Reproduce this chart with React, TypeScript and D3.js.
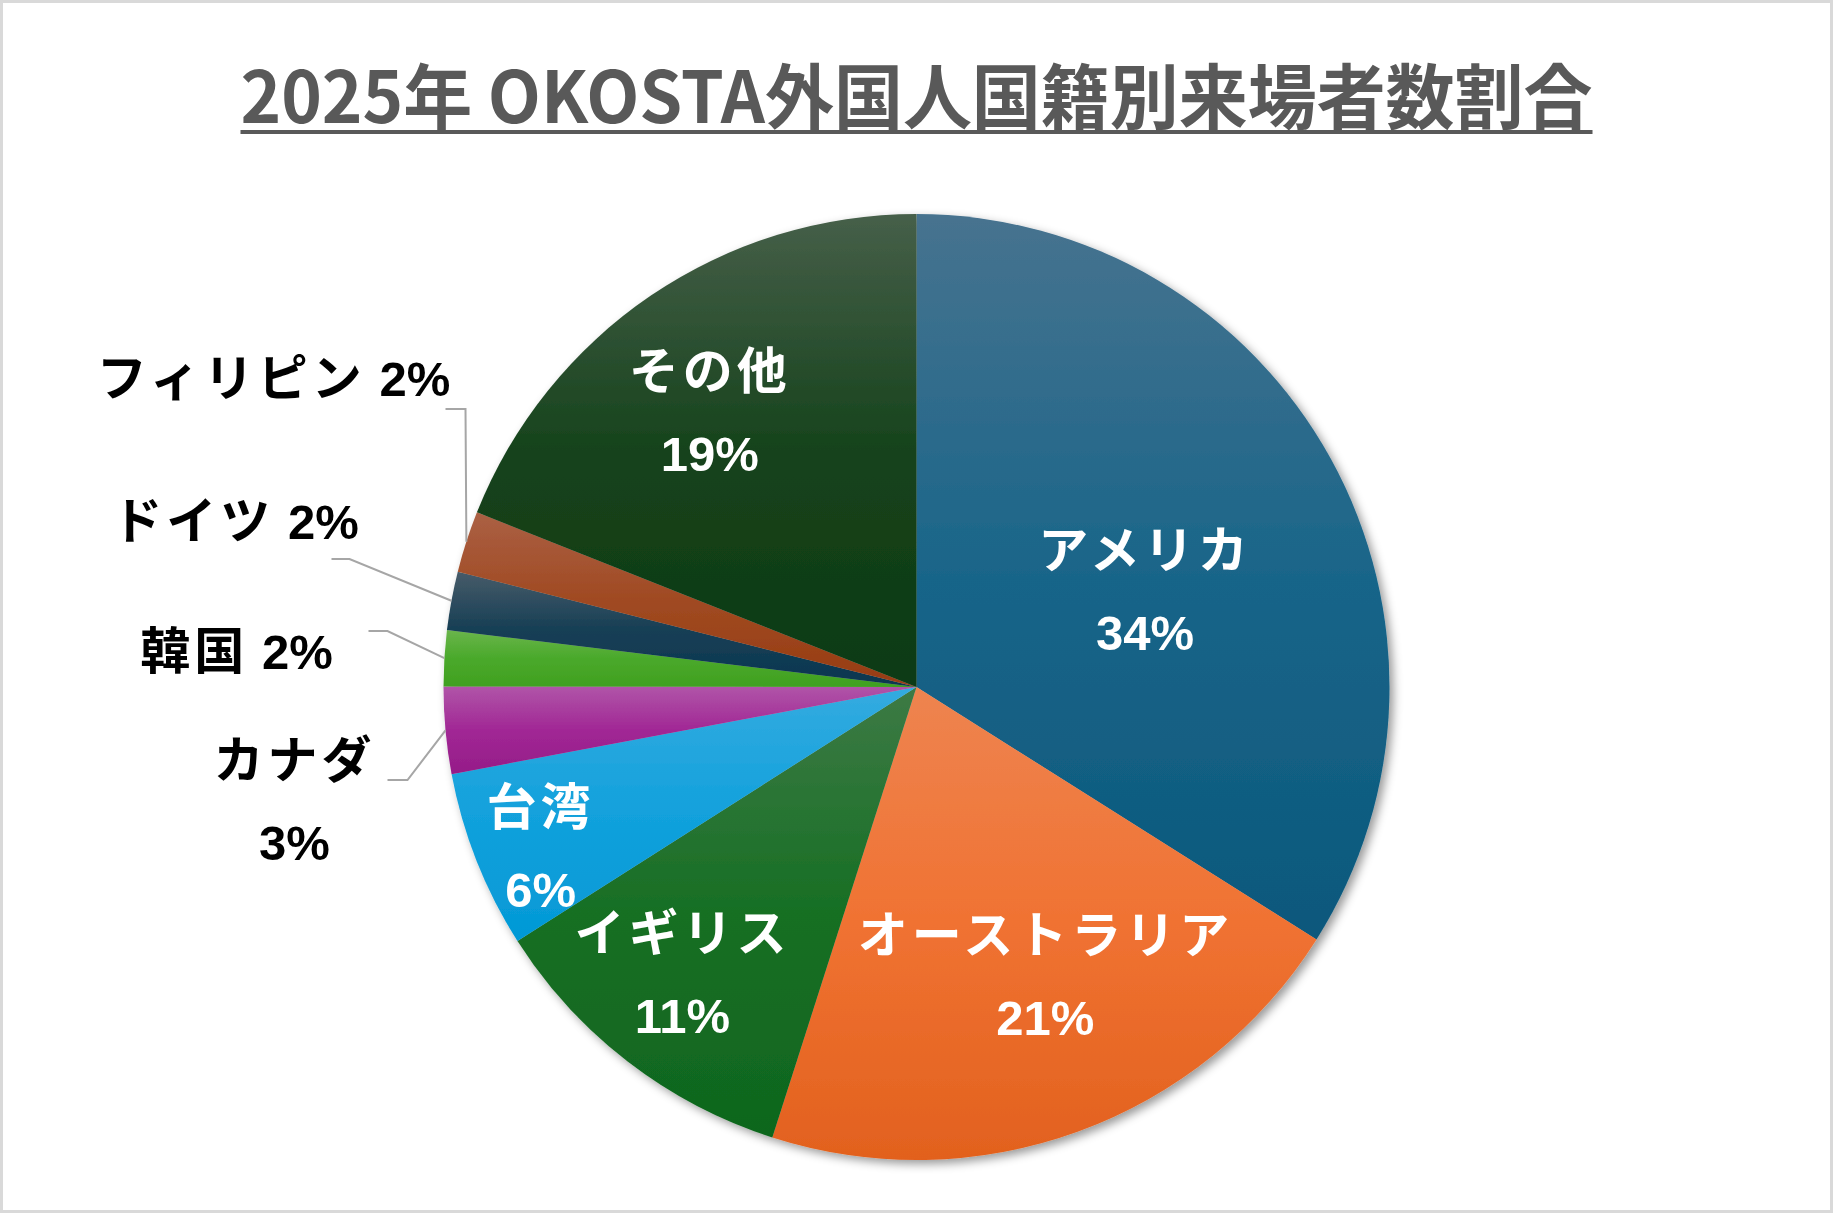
import React, { useEffect, useRef } from "react";
import * as d3 from "d3";

// data (share of foreign visitors by nationality, %)
const countries = ["アメリカ", "オーストラリア", "イギリス", "台湾", "カナダ", "韓国", "ドイツ", "フィリピン", "その他"];
const shares = [33.96, 20.97, 11.05, 6.07, 2.97, 1.9, 2.0, 2.1, 18.98];
const percentLabels = ["34%", "21%", "11%", "6%", "3%", "2%", "2%", "2%", "19%"];

const title = "2025年 OKOSTA外国人国籍別来場者数割合";

// gradient stops per slice: top, middle, bottom
const gradTop = ["#47738f", "#ee8450", "#3d7a45", "#34abe0", "#b055a8", "#6ab54b", "#475b69", "#ab6044", "#465f49"];
const gradMid = ["#196589", "#f07232", "#176f24", "#12a1dc", "#a12795", "#4aa92b", "#173f55", "#a04a22", "#16431c"];
const gradBot = ["#0b587c", "#e2611e", "#0f661e", "#0399d6", "#951c88", "#40a020", "#0a3650", "#973c12", "#0c3a12"];

// label layout (inside labels: radius fraction + angle tweak in degrees)
const insideLayout: Record<string, { k: number; da: number }> = {
  "アメリカ": { k: 0.524, da: 6.1 },
  "オーストラリア": { k: 0.67, da: -4 },
  "イギリス": { k: 0.784, da: 1.5 },
  "台湾": { k: 0.865, da: -1.7 },
  "その他": { k: 0.727, da: -2.8 },
};
// outside labels: offsets from the pie centre for elbow, line end, text centre
const outsideLayout: Record<string, { elbow: number[]; end: number[]; text: number[]; twoLines: boolean }> = {
  "カナダ": { elbow: [-509, 93], end: [-529, 93], text: [-622, 114], twoLines: true },
  "韓国": { elbow: [-529, -56], end: [-548, -56], text: [-680, -36], twoLines: false },
  "ドイツ": { elbow: [-567, -128], end: [-585, -128], text: [-681, -166], twoLines: false },
  "フィリピン": { elbow: [-451, -278], end: [-471, -278], text: [-643, -309], twoLines: false },
};

const W = 1833;
const H = 1213;
const FONT = "'Noto Sans CJK JP', 'Noto Sans', sans-serif";
const NUM_FONT = "'Liberation Sans', Arial, sans-serif";

export default function App() {
  const ref = useRef<SVGSVGElement>(null);

  useEffect(() => {
    const svg = d3.select(ref.current);
    svg.selectAll("*").remove();

    const cx = W / 2, cy = 687, r = 473;

    svg.append("rect")
      .attr("x", 1.5).attr("y", 1.5)
      .attr("width", W - 3).attr("height", H - 3)
      .attr("fill", "#fff")
      .attr("stroke", "#d9d9d9")
      .attr("stroke-width", 3);

    // title
    const titleWidth = 1352;
    svg.append("text")
      .attr("x", W / 2)
      .attr("y", 123)
      .attr("text-anchor", "middle")
      .attr("textLength", titleWidth)
      .attr("lengthAdjust", "spacingAndGlyphs")
      .style("font-family", FONT)
      .style("font-weight", "bold")
      .style("font-size", "71px")
      .style("fill", "#595959")
      .text(title);
    svg.append("line")
      .attr("x1", W / 2 - titleWidth / 2).attr("x2", W / 2 + titleWidth / 2)
      .attr("y1", 132).attr("y2", 132)
      .attr("stroke", "#595959")
      .attr("stroke-width", 4);

    const defs = svg.append("defs");
    const filter = defs.append("filter")
      .attr("id", "pie-shadow")
      .attr("x", "-10%").attr("y", "-10%")
      .attr("width", "120%").attr("height", "120%");
    filter.append("feDropShadow")
      .attr("dx", 4).attr("dy", 4)
      .attr("stdDeviation", 5)
      .attr("flood-color", "#000")
      .attr("flood-opacity", 0.4);

    countries.forEach((c, i) => {
      const g = defs.append("linearGradient")
        .attr("id", "grad" + i)
        .attr("x1", 0).attr("y1", 0).attr("x2", 0).attr("y2", 1);
      g.append("stop").attr("offset", "0%").attr("stop-color", gradTop[i]);
      g.append("stop").attr("offset", "50%").attr("stop-color", gradMid[i]);
      g.append("stop").attr("offset", "100%").attr("stop-color", gradBot[i]);
    });

    const pie = d3.pie<number>().sort(null).value((d) => d);
    const arcs = pie(shares);
    const arc = d3.arc<d3.PieArcDatum<number>>().innerRadius(0).outerRadius(r);

    const chart = svg.append("g").attr("transform", "translate(" + cx + "," + cy + ")");

    chart.append("g")
      .style("filter", "url(#pie-shadow)")
      .selectAll("path")
      .data(arcs)
      .enter()
      .append("path")
      .attr("d", arc)
      .attr("fill", (d, i) => "url(#grad" + i + ")");

    const lineGap = 82;

    arcs.forEach((d, i) => {
      const name = countries[i];
      const mid = (d.startAngle + d.endAngle) / 2;
      const inside = insideLayout[name];
      if (inside) {
        const a = mid + (inside.da * Math.PI) / 180;
        const x = Math.sin(a) * r * inside.k;
        const y = -Math.cos(a) * r * inside.k;
        const t = chart.append("text")
          .attr("text-anchor", "middle")
          .style("font-family", FONT)
          .style("font-weight", "bold")
          .style("font-size", "50px")
          .style("fill", "#fff");
        t.append("tspan")
          .attr("x", x).attr("y", y - lineGap / 2)
          .attr("dy", "0.35em")
          .style("letter-spacing", "4px")
          .text(name);
        t.append("tspan")
          .attr("x", x).attr("y", y + lineGap / 2)
          .attr("dy", "0.36em")
          .style("font-family", NUM_FONT)
          .style("font-size", "49px")
          .text(percentLabels[i]);
        return;
      }
      const out = outsideLayout[name];
      const edge = [Math.sin(mid) * r, -Math.cos(mid) * r];
      chart.append("polyline")
        .attr("points", [edge, out.elbow, out.end].map((p) => p.join(",")).join(" "))
        .attr("fill", "none")
        .attr("stroke", "#a6a6a6")
        .attr("stroke-width", 2);
      const t = chart.append("text")
        .attr("text-anchor", "middle")
        .style("font-family", FONT)
        .style("font-weight", "bold")
        .style("font-size", "50px")
        .style("fill", "#000");
      if (out.twoLines) {
        t.append("tspan")
          .attr("x", out.text[0]).attr("y", out.text[1] - lineGap / 2)
          .attr("dy", "0.35em")
          .style("letter-spacing", "4px")
          .text(name);
        t.append("tspan")
          .attr("x", out.text[0]).attr("y", out.text[1] + lineGap / 2)
          .attr("dy", "0.36em")
          .style("font-family", NUM_FONT)
          .style("font-size", "49px")
          .text(percentLabels[i]);
      } else {
        t.attr("x", out.text[0]).attr("y", out.text[1]).attr("dy", "0.35em");
        t.append("tspan").style("letter-spacing", "4px").text(name);
        t.append("tspan")
          .style("font-family", NUM_FONT)
          .style("font-size", "49px")
          .text(" " + percentLabels[i]);
      }
    });
  }, []);

  return (
    <svg
      ref={ref}
      width={W}
      height={H}
      style={{ position: "absolute", left: 0, top: 0, background: "#fff" }}
    />
  );
}
